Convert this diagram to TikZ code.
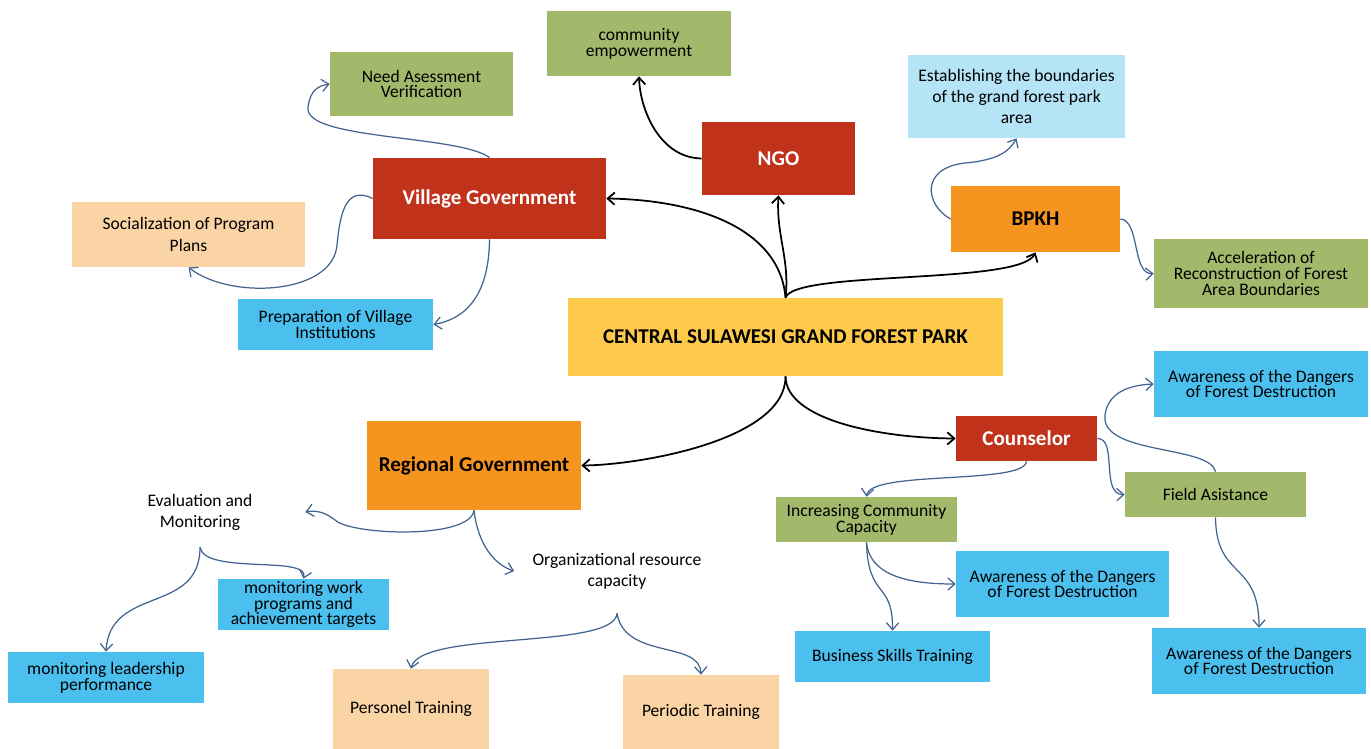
\documentclass[tikz,border=0pt]{standalone}
\usepackage{fontspec}
\setmainfont{Carlito}
\usepackage{tikz}
\usetikzlibrary{arrows.meta,shapes}

\definecolor{boxgreen}{HTML}{A2B86B}
\definecolor{boxred}{HTML}{C0321A}
\definecolor{boxorange}{HTML}{F59520}
\definecolor{boxyellow}{HTML}{FECA4B}
\definecolor{boxblue}{HTML}{4BC0EE}
\definecolor{boxlight}{HTML}{B5E4F6}
\definecolor{boxpeach}{HTML}{FBD4A5}
\definecolor{linkblue}{HTML}{41638F}

\tikzset{
  box/.style={rectangle, inner sep=0pt, align=center, font=\fontsize{10}{9}\selectfont},
  sz/.style 2 args={minimum width=#1*0.02cm, minimum height=#2*0.02cm},
  loose/.style={font=\fontsize{10}{12}\selectfont},
  greenbox/.style={box, fill=boxgreen},
  bluebox/.style={box, fill=boxblue},
  lightbox/.style={box, fill=boxlight, loose},
  peachbox/.style={box, fill=boxpeach},
  redbox/.style={box, fill=boxred, text=white, font=\bfseries\fontsize{12}{14}\selectfont},
  orangebox/.style={box, fill=boxorange, font=\bfseries\fontsize{12}{14}\selectfont},
  mainlink/.style={black, line width=1pt, -{Straight Barb[length=4pt,width=7pt]}},
  sublink/.style={linkblue, line width=0.7pt, -{Straight Barb[length=4pt,width=7pt]}}
}

\begin{document}
\begin{tikzpicture}[x=0.02cm, y=-0.02cm]
    \useasboundingbox (0,0) rectangle (1371,749);

    % center and main actors
    \node[box, fill=boxyellow, sz={435}{78}, font=\bfseries\fontsize{12}{14}\selectfont] (park) at (785.5,337) {CENTRAL SULAWESI GRAND FOREST PARK};
    \node[redbox, sz={153}{73}] (ngo) at (778.5,158.5) {NGO};
    \node[redbox, sz={233}{81}] (village) at (489.5,198.5) {Village Government};
    \node[orangebox, sz={169}{66}] (bpkh) at (1035.5,219) {BPKH};
    \node[redbox, sz={141}{45}] (couns) at (1026.5,438.5) {Counselor};
    \node[orangebox, sz={214}{89}] (region) at (474,465.5) {Regional Government};

    % programs
    \node[greenbox, sz={184}{65}] (comm) at (639,43.5) {community\\empowerment};
    \node[greenbox, sz={183}{64}] (need) at (421.5,84) {Need Asessment\\Verification};
    \node[peachbox, loose, sz={233}{65}] (social) at (188.5,234.5) {Socialization of Program\\Plans};
    \node[bluebox, sz={195}{51}] (prep) at (335.5,324.5) {Preparation of Village\\Institutions};
    \node[lightbox, sz={217}{83}] (estab) at (1016.5,96.5) {Establishing the boundaries\\of the grand forest park\\area};
    \node[greenbox, sz={214}{69}] (accel) at (1261,273.5) {Acceleration of\\Reconstruction of Forest\\Area Boundaries};
    \node[bluebox, sz={214}{66}] (aware1) at (1261,384) {Awareness of the Dangers\\of Forest Destruction};
    \node[greenbox, sz={181}{45}] (field) at (1215.5,494.5) {Field Asistance};
    \node[bluebox, sz={214}{66}] (aware3) at (1259,661) {Awareness of the Dangers\\of Forest Destruction};
    \node[greenbox, sz={181}{45}] (incr) at (866.5,519.5) {Increasing Community\\Capacity};
    \node[bluebox, sz={213}{66}] (aware2) at (1062.5,584) {Awareness of the Dangers\\of Forest Destruction};
    \node[bluebox, sz={195}{51}] (biz) at (892.5,656.5) {Business Skills Training};
    \node[box, fill=white, loose, sz={210}{70}] (eval) at (200,512) {Evaluation and\\Monitoring};
    \node[box, fill=white, loose, sz={205}{84}] (org) at (617,571) {Organizational resource\\capacity};
    \node[bluebox, sz={171}{51}] (work) at (303.5,604.5) {monitoring work\\programs and\\achievement targets};
    \node[bluebox, sz={196}{51}] (lead) at (106,677.5) {monitoring leadership\\performance};
    \node[peachbox, sz={156}{80}] (pers) at (411,709) {Personel Training};
    \node[peachbox, sz={156}{74}] (peri) at (701,712) {Periodic Training};

    % main links
    \draw[mainlink] (park.north) .. controls (790,260) and (776,235) .. (ngo.south);
    \draw[mainlink] (park.north) .. controls (780,230) and (700,200) .. (village.east);
    \draw[mainlink] (park.north) .. controls (795,270) and (1020,285) .. (bpkh.south);
    \draw[mainlink] (park.south) .. controls (786,440) and (640,465) .. (region.east);
    \draw[mainlink] (park.south) .. controls (786,420) and (880,438) .. (couns.west);
    \draw[mainlink] (ngo.west) .. controls (660,158) and (640,110) .. (comm.south);

    % sub links
    \draw[sublink] (village.north) .. controls (460,135) and (305,140) .. (308,108) .. controls (310,90) and (318,86) .. (need.west);
    \draw[sublink] (village.west) .. controls (345,185) and (340,215) .. (337,245) .. controls (333,295) and (230,300) .. (social.south);
    \draw[sublink] (village.south) .. controls (489,290) and (470,318) .. (prep.east);
    \draw[sublink] (bpkh.west) .. controls (925,205) and (920,168) .. (965,163) .. controls (1000,160) and (1010,150) .. (estab.south);
    \draw[sublink] (bpkh.east) .. controls (1140,220) and (1132,275) .. (accel.west);
    \draw[sublink] (couns.east) .. controls (1118,438) and (1100,495) .. (field.west);
    \draw[sublink] (field.north) .. controls (1210,445) and (1100,455) .. (1105,415) .. controls (1108,392) and (1130,385) .. (aware1.west);
    \draw[sublink] (field.south) .. controls (1216,580) and (1259,560) .. (aware3.north);
    \draw[sublink] (couns.south) .. controls (1025,485) and (870,470) .. (incr.north);
    \draw[sublink] (incr.south) .. controls (870,580) and (920,584) .. (aware2.west);
    \draw[sublink] (incr.south) .. controls (868,600) and (893,580) .. (biz.north);
    \draw[sublink] (region.south) .. controls (470,540) and (350,535) .. (335,520) .. controls (325,512) and (315,510) .. (eval.east);
    \draw[sublink] (region.south) .. controls (478,545) and (495,565) .. (org.west);
    \draw[sublink] (eval.south) .. controls (205,575) and (310,555) .. (work.north);
    \draw[sublink] (eval.south) .. controls (200,615) and (110,585) .. (lead.north);
    \draw[sublink] (org.south) .. controls (615,650) and (420,630) .. (pers.north);
    \draw[sublink] (org.south) .. controls (625,660) and (700,640) .. (peri.north);
\end{tikzpicture}
\end{document}
